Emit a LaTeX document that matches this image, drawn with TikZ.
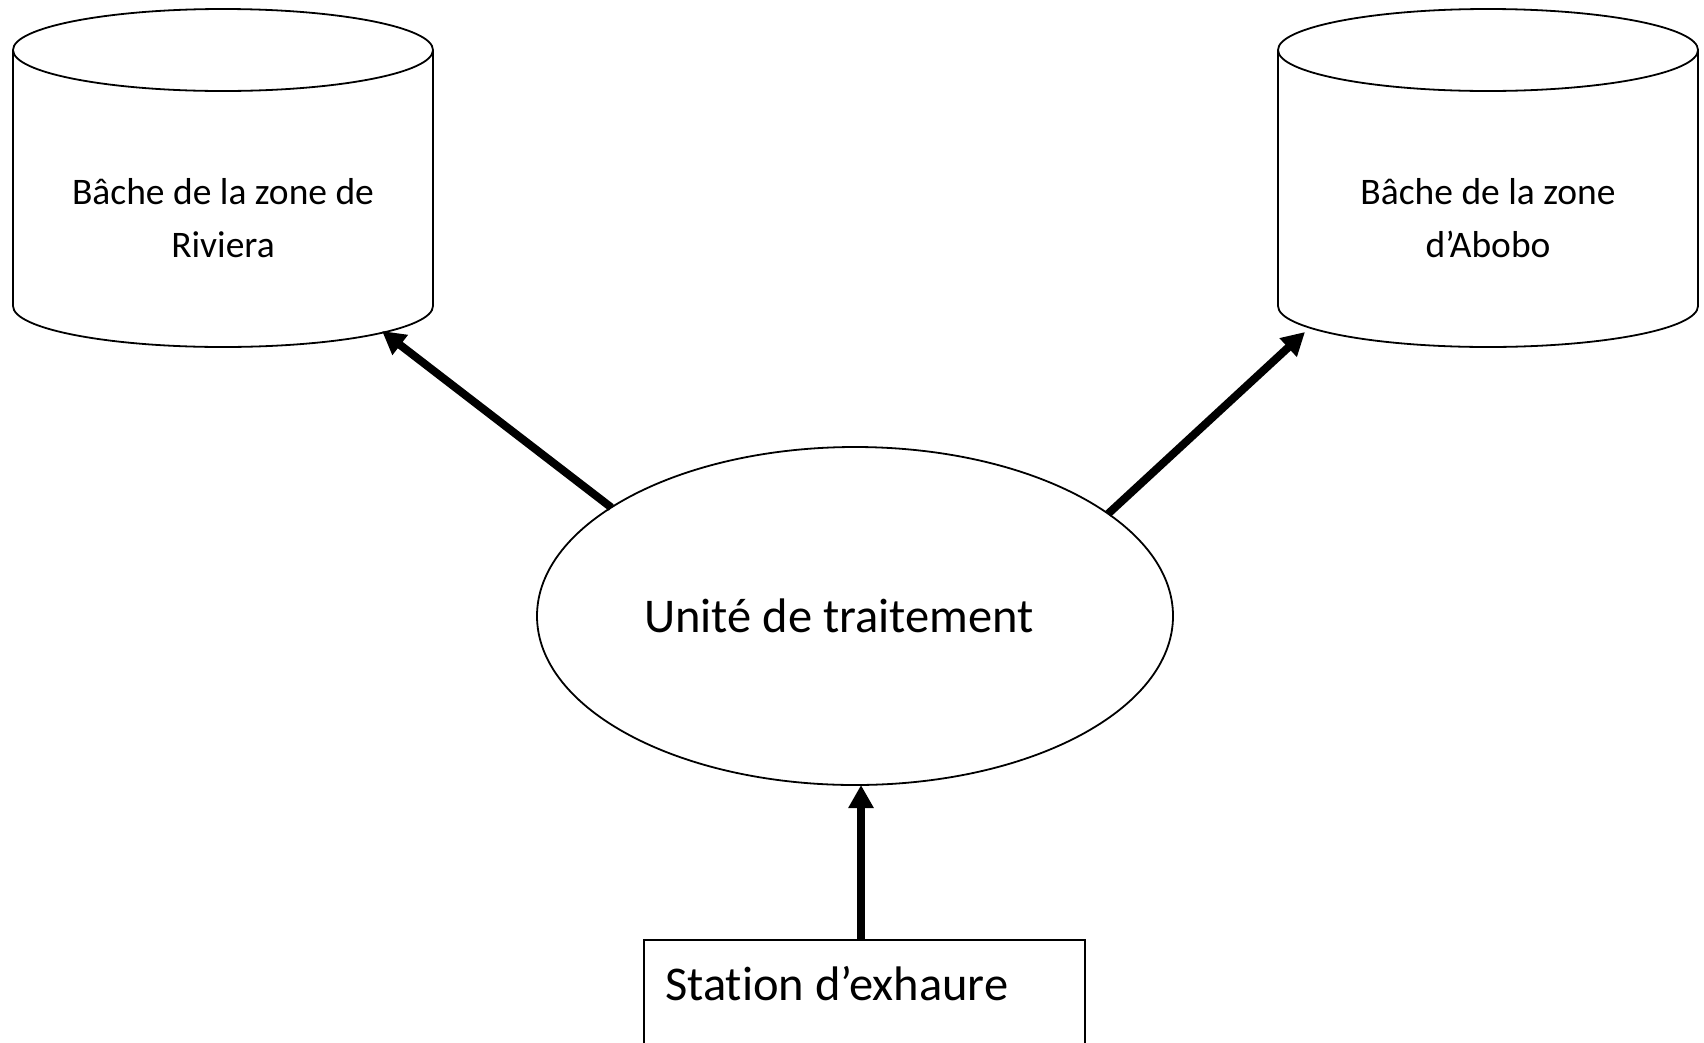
\documentclass[tikz,border=0pt]{standalone}
\usepackage{fontspec}
\setmainfont[Ligatures={NoCommon}]{Carlito}
\usetikzlibrary{arrows.meta,shapes.geometric}
\begin{document}
\begin{tikzpicture}[x=1pt,y=1pt,
  outline/.style={line width=1.8pt},
  flow/.style={line width=8pt,-{Triangle[width=24pt,length=23pt]}},
  tanklabel/.style={font=\fontsize{37.5}{53}\selectfont, align=center, anchor=base, inner sep=0pt},
  biglabel/.style={font=\fontsize{48.5}{58}\selectfont, inner sep=0pt},
  tankpic/.pic={
    \draw[outline] (0,128) ellipse [x radius=210, y radius=41];
    \draw[outline] (-210,128) -- (-210,-128) arc[start angle=180,end angle=360,x radius=210,y radius=41] -- (210,128);
  }]
\useasboundingbox (0,0) rectangle (1704,-1042);
\clip (0,0) rectangle (1704,-1042);

% tanks
\pic at (223,-178) {tankpic};
\pic at (1488,-178) {tankpic};
\node[tanklabel] (riv) at (223,-257) {Bâche de la zone de\\Riviera};
\node[tanklabel] (abo) at (1488,-257) {Bâche de la zone\\d’Abobo};
\coordinate (rivin) at (382,-331);
\coordinate (aboin) at (1305,-332);

% treatment unit
\node[draw, outline, ellipse, minimum width=636, minimum height=338, inner sep=0pt, outer sep=0pt] (unite) at (855,-616) {};
\node[biglabel, anchor=base] (unitelbl) at (839,-632) {Unité de traitement};

% station
\node[draw, outline, rectangle, minimum width=441, minimum height=140, anchor=north west, inner sep=0pt, outer sep=0pt] (exh) at (644,-940) {};
\node[biglabel, anchor=base west] (exhlbl) at (665,-1000) {Station d’exhaure};

% flows
\draw[flow] (unite.156.8) -- (rivin);
\draw[flow] (unite.22.8) -- (aboin);
\draw[flow] ([xshift=-3.5pt]exh.north) -- ([xshift=-3.5pt]exh.north |- unite.south);
\end{tikzpicture}
\end{document}
